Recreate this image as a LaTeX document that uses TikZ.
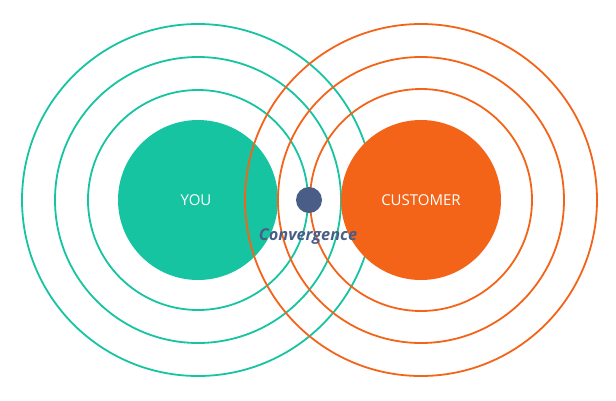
\documentclass[tikz,border=0pt]{standalone}
\usepackage{fontspec}
\setmainfont{Open Sans}
\definecolor{teal1}{HTML}{17C4A1}
\definecolor{orange1}{HTML}{F36418}
\definecolor{dotblue}{HTML}{4A5D86}
\begin{document}
\begin{tikzpicture}[x=1pt,y=-1pt,
  ring/.style={circle,draw=#1,line width=1.8pt,minimum size=0pt,inner sep=0pt},
  disc/.style={circle,fill=#1,minimum size=160pt,inner sep=0pt,text=white,font=\fontsize{15}{17}\selectfont}]
\useasboundingbox (0,0) rectangle (616,400);
% teal rings
\foreach \r/\n in {110/ta,143/tb,176/tc}
  \node[ring=teal1,minimum size=2*\r pt] (\n) at (198,200) {};
\node[disc=teal1] (you) at (198,200) {\hspace*{-4pt}YOU};
% orange rings
\foreach \r/\n in {111/oa,143/ob,176/oc}
  \node[ring=orange1,minimum size=2*\r pt] (\n) at (421,200) {};
\node[disc=orange1] (cust) at (421,200) {CUSTOMER};
\node[circle,fill=dotblue,minimum size=26pt,inner sep=0pt] (conv) at (309,200) {};
\node[text=dotblue,font=\fontsize{16.3}{18}\selectfont\bfseries\itshape] (convlabel) at (308,236.5) {Convergence};
\end{tikzpicture}
\end{document}
